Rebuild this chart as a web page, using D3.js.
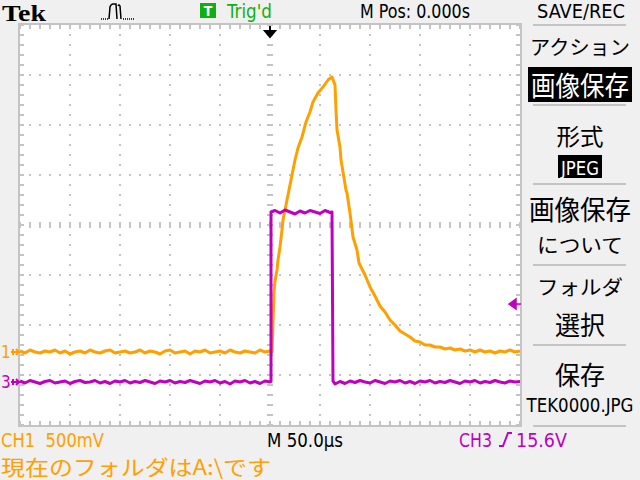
<!DOCTYPE html>
<html><head><meta charset="utf-8">
<script src="https://cdn.jsdelivr.net/npm/d3@7"></script>
<style>html,body{margin:0;padding:0;background:#f0f0f0;}svg{display:block;}</style>
</head><body>
<svg id="c" width="640" height="480"></svg>
<script>
// ---- data ----
// time in µs (50 µs/div, trigger at centre), CH1 in volts (500 mV/div), CH3 in volts (10 V/div)
const ch1Trace = [
[-250,0.01],[-245,-0.01],[-240,0.02],[-235,0],[-230,-0.01],[-225,0.01],[-220,0],[-215,0.02],[-210,-0.01],[-205,0.01],
[-200,-0.02],[-195,0],[-190,0.01],[-185,-0.01],[-180,0.02],[-175,0],[-170,-0.01],[-165,0.01],[-160,0.02],[-155,-0.01],
[-150,0],[-145,0.01],[-140,-0.01],[-135,0],[-130,0.02],[-125,-0.01],[-120,0.01],[-115,0],[-110,-0.02],[-105,0.01],
[-100,0.02],[-95,-0.01],[-90,0],[-85,0.01],[-80,-0.02],[-75,0.01],[-70,0],[-65,0.02],[-60,-0.01],[-55,0],
[-50,0.01],[-45,-0.01],[-40,0.02],[-35,0],[-30,-0.01],[-25,0.01],[-20,0],[-15,-0.01],[-10,0.02],[-5,0],[0,0.01],[2,0],
[3,0.30],[4,0.60],[5,0.71],[7,0.82],[8,0.92],[10,1.05],[12,1.22],[13,1.32],[15,1.42],[17,1.52],[20,1.67],[25,1.92],
[28,2.04],[32,2.15],[36,2.30],[40,2.40],[43,2.50],[48,2.59],[53,2.65],[58,2.72],[62,2.75],
[65,2.67],[66,2.42],[67,2.22],[70,2.05],[71,1.92],[76,1.62],[77,1.59],[80,1.39],[83,1.15],[87,1.02],[89,0.89],
[95,0.77],[100,0.65],[105,0.56],[110,0.46],[115,0.40],[120,0.32],[125,0.27],[130,0.21],[135,0.18],[140,0.15],
[145,0.11],[150,0.10],[155,0.07],[160,0.07],[165,0.05],[170,0.05],[175,0.03],[180,0.04],[185,0.02],[190,0.03],
[195,0.01],[200,0.02],[205,0],[210,0.02],[215,0],[220,0.01],[225,-0.01],[230,0.01],[235,0],[240,0.02],[245,0],[250,0.01]
];
const ch3Trace = [
[-250,0.2],[-245,-0.2],[-240,0.3],[-235,0],[-230,-0.3],[-225,0.1],[-220,0.3],[-215,-0.2],[-210,0],[-205,0.2],
[-200,-0.3],[-195,0.1],[-190,0.3],[-185,-0.1],[-180,0],[-175,0.3],[-170,-0.2],[-165,0.1],[-160,-0.3],[-155,0.2],
[-150,0],[-145,0.3],[-140,-0.2],[-135,0.1],[-130,-0.1],[-125,0.3],[-120,0],[-115,-0.3],[-110,0.2],[-105,0],
[-100,0.3],[-95,-0.2],[-90,0.1],[-85,-0.1],[-80,0.3],[-75,0],[-70,-0.3],[-65,0.2],[-60,0],[-55,0.3],
[-50,-0.2],[-45,0.1],[-40,-0.4],[-35,0.2],[-30,0],[-25,0.3],[-20,-0.2],[-15,0.1],[-10,-0.3],[-5,0.2],[0,0],
[1,0.1],[1,34.0],[5,34.3],[10,33.8],[15,34.4],[20,34.0],[25,33.6],[30,34.2],[35,33.8],[40,34.3],[45,34.0],
[50,33.7],[55,34.3],[60,33.9],[62,34.0],[63,0.2],[65,-0.4],[70,0.1],[75,-0.3],[80,0.2],[85,-0.1],[90,0.3],
[95,0],[100,-0.2],[105,0.3],[110,0],[115,-0.3],[120,0.2],[125,0],[130,0.3],[135,-0.2],[140,0.1],[145,-0.3],
[150,0.2],[155,0],[160,0.3],[165,-0.2],[170,0.1],[175,-0.1],[180,0.3],[185,0],[190,-0.3],[195,0.2],[200,0],
[205,0.3],[210,-0.2],[215,0.1],[220,-0.1],[225,0.3],[230,0],[235,-0.2],[240,0.2],[245,0],[250,0.1]
];
const ch1VoltsPerDiv = 0.5, ch1GroundDiv = -2.54;
const ch3VoltsPerDiv = 10, ch3GroundDiv = -3.14;
const ch3TriggerLevel = 15.6;

const headerTexts = {tek:"Tek", trig:"Trig'd", mpos:"M Pos: 0.000s", menuTitle:"SAVE/REC"};
const footerTexts = {ch1:"CH1\u00a0\u00a0500mV", time:"M 50.0\u00b5s", ch3:"CH3", ch3Level:"15.6V", status:"現在のフォルダはA:\\です"};
const menuItems = [
 {text:"アクション", y:55, size:20, len:100},
 {text:"画像保存", y:96, size:27, len:98, inverse:true, box:[528,67,104,35]},
 {text:"形式", y:145, size:23, len:47},
 {text:"JPEG", y:175, size:19, len:38, inverse:true, box:[558,155,44,23], latin:true},
 {text:"画像保存", y:220, size:27, len:102},
 {text:"について", y:253, size:20, len:86},
 {text:"フォルダ", y:295, size:20, len:86},
 {text:"選択", y:335, size:26, len:50},
 {text:"保存", y:385, size:26, len:50},
 {text:"TEK0000.JPG", y:412, size:19, len:107, latin:true}
];
const menuSeparators = [25,105,184,265,345,426];

// ---- drawing ----
const svg = d3.select("#c");
const ORANGE = "#ffa000", MAGENTA = "#c000c0", GRID = "#c4c4c4", GREEN = "#10b010";
const LATIN = "'DejaVu Sans Condensed','DejaVu Sans',sans-serif";
const CJK = "'Noto Sans CJK JP','Noto Sans CJK SC',sans-serif";

const x = d3.scaleLinear().domain([-250,250]).range([20,520]);
const yDiv = d3.scaleLinear().domain([-4,4]).range([425,25]);
const y1 = v => yDiv(v / ch1VoltsPerDiv + ch1GroundDiv);
const y3 = v => yDiv(v / ch3VoltsPerDiv + ch3GroundDiv);

svg.append("rect").attr("width",640).attr("height",480).attr("fill","#f0f0f0");
svg.append("rect").attr("x",x(-250)).attr("y",yDiv(4)).attr("width",x(250)-x(-250)).attr("height",yDiv(-4)-yDiv(4)).attr("fill","#ffffff");

const g = svg.append("g");
// grid dots
const minorT = d3.range(-250,251,10);
const minorD = d3.range(-4,4.001,0.2);
[-200,-150,-100,-50,50,100,150,200].forEach(t=>{
  minorD.forEach(d=>g.append("rect").attr("x",x(t)-1).attr("y",yDiv(d)-1).attr("width",2).attr("height",2).attr("fill",GRID));
});
[-3,-2,-1,1,2,3].forEach(d=>{
  minorT.forEach(t=>g.append("rect").attr("x",x(t)-1).attr("y",yDiv(d)-1).attr("width",2).attr("height",2).attr("fill",GRID));
});
// centre axes ticks
minorD.forEach(d=>g.append("rect").attr("x",x(0)-3).attr("y",yDiv(d)-1).attr("width",6).attr("height",2).attr("fill",GRID));
minorT.forEach(t=>g.append("rect").attr("x",x(t)-1).attr("y",yDiv(0)-3).attr("width",2).attr("height",6).attr("fill",GRID));
// edge ticks
minorT.forEach(t=>{
  g.append("rect").attr("x",x(t)-1).attr("y",yDiv(4)).attr("width",2).attr("height",4).attr("fill",GRID);
  g.append("rect").attr("x",x(t)-1).attr("y",yDiv(-4)-4).attr("width",2).attr("height",4).attr("fill",GRID);
});
minorD.forEach(d=>{
  g.append("rect").attr("x",x(-250)).attr("y",yDiv(d)-1).attr("width",4).attr("height",2).attr("fill",GRID);
  g.append("rect").attr("x",x(250)-4).attr("y",yDiv(d)-1).attr("width",4).attr("height",2).attr("fill",GRID);
});
// frame
g.append("rect").attr("x",x(-250)-1).attr("y",yDiv(4)-1).attr("width",x(250)-x(-250)+2).attr("height",yDiv(-4)-yDiv(4)+2)
 .attr("fill","none").attr("stroke",GRID).attr("stroke-width",2);

// traces
const line1 = d3.line().x(d=>x(d[0])).y(d=>y1(d[1]));
const line3 = d3.line().x(d=>x(d[0])).y(d=>y3(d[1]));
svg.append("path").attr("d",line1(ch1Trace)).attr("fill","none").attr("stroke",ORANGE).attr("stroke-width",3).attr("stroke-linejoin","round");
svg.append("path").attr("d",line3(ch3Trace)).attr("fill","none").attr("stroke",MAGENTA).attr("stroke-width",3).attr("stroke-linejoin","round");

// ground markers
function groundMarker(label, yy, color){
  svg.append("text").attr("x",1).attr("y",yy+6).attr("font-family",LATIN).attr("font-size",17).attr("fill",color).text(label);
  svg.append("path").attr("d",`M11,${yy} L20,${yy} M13,${yy-3} L13,${yy+3} M16,${yy-3} L19,${yy} L16,${yy+3}`)
    .attr("stroke",color).attr("stroke-width",2).attr("fill","none");
}
groundMarker("1", y1(0), ORANGE);
groundMarker("3", y3(0), MAGENTA);
// trigger level marker
const ty = y3(ch3TriggerLevel);
svg.append("path").attr("d",`M509,${ty} L516,${ty-5} L516,${ty+5} Z M516,${ty} L521,${ty}`).attr("fill",MAGENTA).attr("stroke",MAGENTA).attr("stroke-width",1.5);
// trigger position marker
svg.append("path").attr("d",`M${x(0)},26 L${x(0)},33 M${x(0)-5},31 L${x(0)+5},31 L${x(0)},37 Z`).attr("fill","#000").attr("stroke","#000").attr("stroke-width",2);

// header
svg.append("text").attr("x",2).attr("y",21).attr("font-family","'Liberation Serif','DejaVu Serif',serif").attr("font-weight","bold")
  .attr("font-size",23).attr("textLength",44).attr("lengthAdjust","spacingAndGlyphs").attr("fill","#000").text(headerTexts.tek);
svg.append("path").attr("d","M101,19 h1 M103,19 h1 M105,19 h1 M107,19 h1 M109,19 L110,7 Q111,4 113,4 L116,4 L117,19 M118,6 Q119,4 120,6 L121,19 M123,19 h1 M125,19 h1 M127,19 h1 M129,19 h1 M131,19 h1 M133,19 h1")
  .attr("fill","none").attr("stroke","#000").attr("stroke-width",1.5);
svg.append("rect").attr("x",200).attr("y",3).attr("width",16).attr("height",15).attr("fill",GREEN);
svg.append("text").attr("x",208).attr("y",16).attr("text-anchor","middle").attr("font-family",LATIN).attr("font-weight","bold").attr("font-size",14).attr("fill","#fff").text("T");
svg.append("text").attr("x",227).attr("y",18).attr("font-family",LATIN).attr("font-size",19).attr("textLength",45).attr("lengthAdjust","spacingAndGlyphs").attr("fill",GREEN).text(headerTexts.trig);
svg.append("text").attr("x",360).attr("y",18).attr("font-family",LATIN).attr("font-size",19).attr("textLength",110).attr("lengthAdjust","spacingAndGlyphs").attr("fill","#000").text(headerTexts.mpos);
svg.append("text").attr("x",537).attr("y",18).attr("font-family",LATIN).attr("font-size",19).attr("textLength",88).attr("lengthAdjust","spacingAndGlyphs").attr("fill","#000").text(headerTexts.menuTitle);

// menu
menuSeparators.forEach(s=>svg.append("line").attr("x1",533).attr("x2",626).attr("y1",s).attr("y2",s).attr("stroke","#c4c4c4").attr("stroke-width",2));
menuItems.forEach(m=>{
  if(m.box) svg.append("rect").attr("x",m.box[0]).attr("y",m.box[1]).attr("width",m.box[2]).attr("height",m.box[3]).attr("fill","#000");
  svg.append("text").attr("x",580).attr("y",m.y).attr("text-anchor","middle")
    .attr("font-family",m.latin?LATIN:CJK).attr("font-size",m.size).attr("textLength",m.len).attr("lengthAdjust","spacingAndGlyphs")
    .attr("fill",m.inverse?"#fff":"#000").text(m.text);
});

// footer
svg.append("text").attr("x",1).attr("y",447).attr("font-family",LATIN).attr("font-size",19).attr("textLength",103).attr("lengthAdjust","spacingAndGlyphs").attr("fill",ORANGE).text(footerTexts.ch1);
svg.append("text").attr("x",267).attr("y",447).attr("font-family",LATIN).attr("font-size",19).attr("textLength",76).attr("lengthAdjust","spacingAndGlyphs").attr("fill","#000").text(footerTexts.time);
svg.append("text").attr("x",459).attr("y",447).attr("font-family",LATIN).attr("font-size",19).attr("textLength",33).attr("lengthAdjust","spacingAndGlyphs").attr("fill",MAGENTA).text(footerTexts.ch3);
svg.append("path").attr("d","M499,446 L503,446 L508,433 L512,433").attr("fill","none").attr("stroke",MAGENTA).attr("stroke-width",2);
svg.append("text").attr("x",516).attr("y",447).attr("font-family",LATIN).attr("font-size",19).attr("textLength",51).attr("lengthAdjust","spacingAndGlyphs").attr("fill",MAGENTA).text(footerTexts.ch3Level);
svg.append("text").attr("x",1).attr("y",475).attr("font-family",CJK).attr("font-size",21).attr("textLength",270).attr("lengthAdjust","spacingAndGlyphs").attr("fill",ORANGE).text(footerTexts.status);
</script>
</body></html>
